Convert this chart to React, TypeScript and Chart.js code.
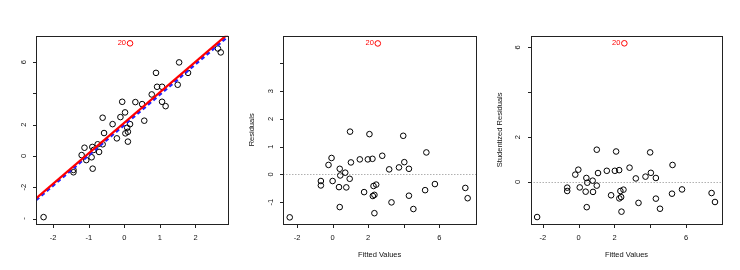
import React, { useEffect, useRef } from "react";
import { Chart, registerables } from "chart.js";
Chart.register(...registerables);

// ---------- Panel 1: X vs Y ----------
const p1X = [-2.27, -1.43, -1.43, -1.2, -1.12, -1.07, -0.92, -0.9, -0.89, -0.86, -0.75, -0.71, -0.61, -0.57, -0.61, -0.33, -0.21, -0.11, -0.06, 0.02, 0.03, 0.08, 0.1, 0.16, 0.1, 0.31, 0.5, 0.56, 0.77, 0.89, 0.92, 1.06, 1.06, 1.16, 1.5, 1.54, 1.79, 2.63, 2.71];
const p1Y = [-3.91, -0.89, -1.04, 0.06, 0.53, -0.26, -0.08, 0.58, -0.81, 0.39, 0.75, 0.26, 0.75, 1.47, 2.45, 2.04, 1.13, 2.49, 3.47, 2.79, 1.45, 1.81, 1.55, 2.04, 0.92, 3.45, 3.32, 2.26, 3.94, 5.32, 4.43, 4.43, 3.47, 3.19, 4.56, 5.99, 5.32, 6.88, 6.63];
const p1OutX = [0.16];
const p1OutY = [7.21];
const p1XTicks = [-2, -1, 0, 1, 2];
const p1XTickLabels = ["-2", "-1", "0", "1", "2"];
const p1YTicks = [-4, -2, 0, 2, 4, 6];
const p1YTickLabels = ["-", "-2", "0", "2", "", "6"];
// fitted lines: [with outlier (red), without outlier (blue dashed)]
const lineIntercepts = [2.13, 2.0];
const lineSlopes = [1.95, 1.94];

// ---------- Panel 2: Fitted vs Residuals ----------
const p2F = [-2.41, -0.66, -0.66, -0.23, -0.06, 0.0, 0.36, 0.4, 0.4, 0.43, 0.71, 0.77, 0.96, 0.98, 1.03, 1.53, 1.77, 1.98, 2.07, 2.24, 2.26, 2.3, 2.35, 2.35, 2.45, 2.79, 3.18, 3.31, 3.73, 3.97, 4.03, 4.29, 4.29, 4.54, 5.2, 5.27, 5.75, 7.46, 7.59];
const p2R = [-1.55, -0.24, -0.4, 0.34, 0.59, -0.24, -0.46, 0.2, -1.18, -0.04, 0.06, -0.47, -0.16, 1.54, 0.43, 0.54, -0.64, 0.54, 1.45, 0.56, -0.78, -0.42, -0.74, -1.4, -0.37, 0.67, 0.18, -1.01, 0.25, 1.39, 0.44, 0.2, -0.77, -1.25, -0.57, 0.79, -0.35, -0.49, -0.86];
const p2OutF = [2.54];
const p2OutR = [4.72];
const p2XTicks = [-2, 0, 2, 4, 6];
const p2XTickLabels = ["-2", "0", "2", "", "6"];
const p2YTicks = [-1, 0, 1, 2, 3, 4];
const p2YTickLabels = ["-1", "0", "1", "2", "3", ""];

// ---------- Panel 3: Fitted vs Studentized Residuals ----------
const p3F = [-2.32, -0.64, -0.64, -0.19, -0.02, 0.06, 0.39, 0.43, 0.45, 0.48, 0.78, 0.8, 1.01, 1.01, 1.08, 1.57, 1.81, 2.02, 2.09, 2.26, 2.27, 2.33, 2.37, 2.39, 2.5, 2.84, 3.19, 3.34, 3.73, 3.99, 4.03, 4.31, 4.31, 4.54, 5.21, 5.24, 5.77, 7.42, 7.61];
const p3S = [-1.56, -0.25, -0.4, 0.33, 0.55, -0.24, -0.43, 0.18, -1.12, -0.03, 0.06, -0.44, -0.16, 1.44, 0.4, 0.5, -0.59, 0.5, 1.36, 0.53, -0.73, -0.4, -0.67, -1.32, -0.34, 0.64, 0.16, -0.93, 0.24, 1.32, 0.41, 0.18, -0.74, -1.19, -0.52, 0.76, -0.33, -0.49, -0.89];
const p3OutF = [2.55];
const p3OutS = [6.18];
const p3XTicks = [-2, 0, 2, 4, 6];
const p3XTickLabels = ["-2", "0", "2", "", "6"];
const p3YTicks = [0, 2, 4, 6];
const p3YTickLabels = ["0", "2", "", "6"];

const outlierLabels = ["20"];

const FONT = "7.5px 'Liberation Sans', Arial, Helvetica, sans-serif";

type PanelProps = {
  left: number;
  width: number;
  pad: { left: number; right: number; top: number; bottom: number };
  xRange: [number, number];
  yRange: [number, number];
  xs: number[];
  ys: number[];
  outX: number[];
  outY: number[];
  xTicks: number[];
  xTickLabels: string[];
  yTicks: number[];
  yTickLabels: string[];
  xTitle?: string;
  yTitle?: string;
  zeroLine?: boolean;
  fitLines?: boolean;
};

function Panel(props: PanelProps) {
  const ref = useRef<HTMLCanvasElement | null>(null);
  useEffect(() => {
    const canvas = ref.current;
    if (!canvas) return;
    const [xMin, xMax] = props.xRange;
    const datasets: any[] = [];
    if (props.fitLines) {
      const colors = ["#ff0000", "#2222ff"];
      const widths = [2.2, 2.6];
      const dashes = [[], [4, 3]];
      for (let i = 0; i < lineIntercepts.length; i++) {
        datasets.push({
          type: "line",
          data: [
            { x: xMin, y: lineIntercepts[i] + lineSlopes[i] * xMin },
            { x: xMax, y: lineIntercepts[i] + lineSlopes[i] * xMax },
          ],
          borderColor: colors[i],
          borderWidth: widths[i],
          borderDash: dashes[i],
          pointRadius: 0,
          showLine: true,
          fill: false,
          clip: 0,
        });
      }
    }
    datasets.push({
      type: "scatter",
      data: props.outX.map((x, i) => ({ x, y: props.outY[i] })),
      pointRadius: 2.8,
      pointBorderWidth: 1,
      pointBorderColor: "#ff0000",
      pointBackgroundColor: "rgba(0,0,0,0)",
      clip: false,
    });
    datasets.push({
      type: "scatter",
      data: props.xs.map((x, i) => ({ x, y: props.ys[i] })),
      pointRadius: 2.8,
      pointBorderWidth: 1,
      pointBorderColor: "#000000",
      pointBackgroundColor: "rgba(0,0,0,0)",
      clip: false,
    });

    const rPlot = {
      id: "rPlot",
      beforeDatasetsDraw(chart: any) {
        if (!props.zeroLine) return;
        const ctx = chart.ctx;
        const a = chart.chartArea;
        const y = chart.scales.y.getPixelForValue(0);
        ctx.save();
        ctx.strokeStyle = "#8a8a8a";
        ctx.lineWidth = 1;
        ctx.setLineDash([1, 2]);
        ctx.beginPath();
        ctx.moveTo(a.left, Math.round(y) + 0.5);
        ctx.lineTo(a.right, Math.round(y) + 0.5);
        ctx.stroke();
        ctx.restore();
      },
      afterDraw(chart: any) {
        const ctx = chart.ctx;
        const a = chart.chartArea;
        const sx = chart.scales.x;
        const sy = chart.scales.y;
        ctx.save();
        ctx.strokeStyle = "#222";
        ctx.lineWidth = 1;
        const L = Math.round(a.left) + 0.5;
        const R = Math.round(a.right) + 0.5;
        const T = Math.round(a.top) + 0.5;
        const B = Math.round(a.bottom) + 0.5;
        ctx.strokeRect(L, T, R - L, B - T);
        // x ticks
        ctx.beginPath();
        props.xTicks.forEach((v) => {
          const px = Math.round(sx.getPixelForValue(v)) + 0.5;
          ctx.moveTo(px, B);
          ctx.lineTo(px, B + 3.5);
        });
        props.yTicks.forEach((v) => {
          const py = Math.round(sy.getPixelForValue(v)) + 0.5;
          ctx.moveTo(L, py);
          ctx.lineTo(L - 3.5, py);
        });
        ctx.stroke();
        ctx.fillStyle = "#111";
        ctx.font = FONT;
        ctx.textAlign = "center";
        ctx.textBaseline = "middle";
        props.xTicks.forEach((v, i) => {
          ctx.fillText(props.xTickLabels[i], sx.getPixelForValue(v), a.bottom + 14.3);
        });
        props.yTicks.forEach((v, i) => {
          ctx.save();
          ctx.translate(a.left - 12.5, sy.getPixelForValue(v));
          ctx.rotate(-Math.PI / 2);
          ctx.fillText(props.yTickLabels[i], 0, 0);
          ctx.restore();
        });
        if (props.xTitle) {
          ctx.fillText(props.xTitle, (a.left + a.right) / 2, a.bottom + 31);
        }
        if (props.yTitle) {
          ctx.save();
          ctx.translate(a.left - 31, (a.top + a.bottom) / 2);
          ctx.rotate(-Math.PI / 2);
          ctx.fillText(props.yTitle, 0, 0);
          ctx.restore();
        }
        // outlier label
        ctx.fillStyle = "#ff0000";
        ctx.textAlign = "right";
        props.outX.forEach((x, i) => {
          const px = sx.getPixelForValue(x);
          const py = sy.getPixelForValue(props.outY[i]);
          ctx.fillText(outlierLabels[i] ?? "", px - 4, py - 0.7);
        });
        ctx.restore();
      },
    };

    const chart = new Chart(canvas, {
      type: "scatter",
      data: { datasets },
      options: {
        animation: false,
        responsive: false,
        maintainAspectRatio: false,
        events: [],
        layout: { padding: props.pad },
        plugins: { legend: { display: false }, tooltip: { enabled: false } },
        scales: {
          x: { type: "linear", min: props.xRange[0], max: props.xRange[1], display: false },
          y: { type: "linear", min: props.yRange[0], max: props.yRange[1], display: false },
        },
      } as any,
      plugins: [rPlot],
    } as any);
    return () => chart.destroy();
  }, []);
  return (
    <canvas
      ref={ref}
      width={props.width}
      height={270}
      style={{ position: "absolute", left: props.left, top: 0, width: props.width, height: 270 }}
    />
  );
}

export default function App() {
  return (
    <div style={{ position: "fixed", left: 0, top: 0, width: 740, height: 270, background: "#fff" }}>
      <Panel
        left={0}
        width={245}
        pad={{ left: 36, right: 16.67, top: 35.67, bottom: 46 }}
        xRange={[-2.483, 2.923]}
        yRange={[-4.35, 7.7]}
        xs={p1X}
        ys={p1Y}
        outX={p1OutX}
        outY={p1OutY}
        xTicks={p1XTicks}
        xTickLabels={p1XTickLabels}
        yTicks={p1YTicks}
        yTickLabels={p1YTickLabels}
        fitLines
      />
      <Panel
        left={245}
        width={245}
        pad={{ left: 38.33, right: 14, top: 35.67, bottom: 46 }}
        xRange={[-2.77, 8.06]}
        yRange={[-1.79, 5.0]}
        xs={p2F}
        ys={p2R}
        outX={p2OutF}
        outY={p2OutR}
        xTicks={p2XTicks}
        xTickLabels={p2XTickLabels}
        yTicks={p2YTicks}
        yTickLabels={p2YTickLabels}
        xTitle="Fitted Values"
        yTitle="Residuals"
        zeroLine
      />
      <Panel
        left={490}
        width={250}
        pad={{ left: 40.67, right: 17.67, top: 35.67, bottom: 46 }}
        xRange={[-2.68, 8.02]}
        yRange={[-1.87, 6.52]}
        xs={p3F}
        ys={p3S}
        outX={p3OutF}
        outY={p3OutS}
        xTicks={p3XTicks}
        xTickLabels={p3XTickLabels}
        yTicks={p3YTicks}
        yTickLabels={p3YTickLabels}
        xTitle="Fitted Values"
        yTitle="Studentized Residuals"
        zeroLine
      />
    </div>
  );
}
